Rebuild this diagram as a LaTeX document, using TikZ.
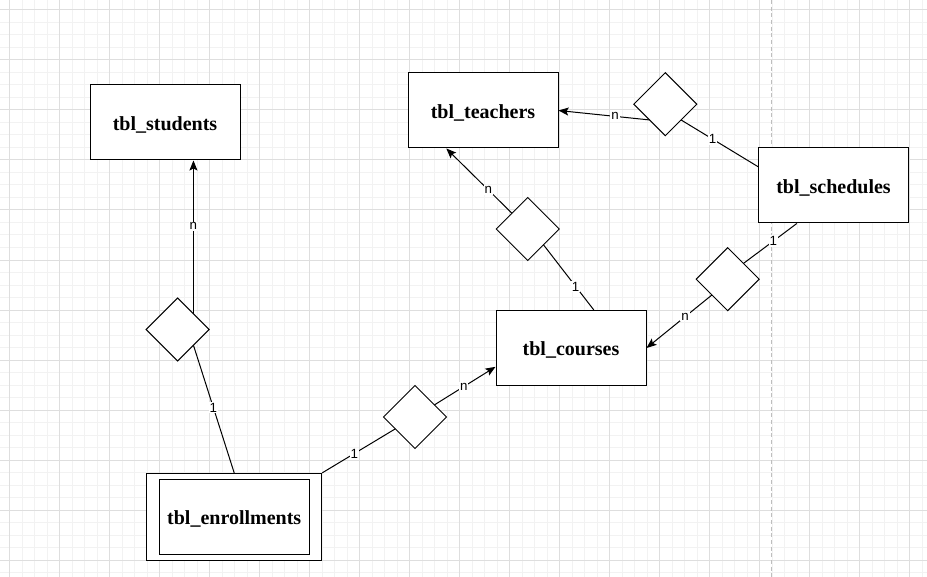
\documentclass[tikz,border=0pt]{standalone}
\usepackage{fontspec}
\setmainfont{Liberation Serif}
\newfontfamily\lblfont{Liberation Sans}
\usetikzlibrary{shapes.geometric,arrows.meta}

\tikzset{every picture/.style={line width=0.75pt}}
\definecolor{gridminor}{RGB}{242,242,242}
\definecolor{gridmajor}{RGB}{222,222,222}
\definecolor{pagebreak}{RGB}{190,190,190}

\tikzset{
  tbl/.style={draw, fill=white, minimum width=112.5pt, minimum height=56.25pt, inner sep=0pt,
    text height=12pt, text depth=0.6pt, font=\fontsize{15}{18}\selectfont\bfseries},
  rel/.style={draw, fill=white, diamond, aspect=1, inner sep=0pt, outer sep=0pt,
    minimum width=47.25pt, minimum height=47.25pt},
  toarr/.style={-{Stealth[length=7.5pt,width=6pt,inset=1.5pt]}},
  lbl/.style={fill=white, inner sep=0.75pt, font=\lblfont\fontsize{10}{11}\selectfont},
}

\begin{document}
\begin{tikzpicture}[x=0.75pt,y=0.75pt,yscale=-1,xscale=1]
\useasboundingbox (0,0) rectangle (927,577);

%Grid
\fill[white] (0,0) rectangle (927,577);
\foreach \k in {0,...,73} \draw[gridminor] ({9.5+12.5*\k},0) -- ({9.5+12.5*\k},577);
\foreach \k in {0,...,45} \draw[gridminor] (0,{10+12.5*\k}) -- (927,{10+12.5*\k});
\foreach \k in {0,...,18} \draw[gridmajor] ({9.5+50*\k},0) -- ({9.5+50*\k},577);
\foreach \k in {0,...,11} \draw[gridmajor] (0,{10+50*\k}) -- (927,{10+50*\k});
%Page break
\draw[pagebreak, dash pattern=on 3pt off 2pt] (771.7,0) -- (771.7,577);

%Tables
\node[tbl] (stu) at (165,122.5) {tbl\_students};
\node[tbl] (tea) at (483,110.5) {tbl\_teachers};
\node[tbl] (sch) at (833.5,185.5) {tbl\_schedules};
\node[tbl] (crs) at (571,348) {tbl\_courses};
\node[draw, fill=white, minimum width=131.25pt, minimum height=65pt] (enr) at (234.2,516.7) {};
\node[tbl] (enrin) at (234.2,517) {tbl\_enrollments};

%Relations
\node[rel] (d1) at (177.7,329.5) {};
\node[rel] (d2) at (415,417) {};
\node[rel] (d3) at (665.3,104.2) {};
\node[rel] (d4) at (527.7,229) {};
\node[rel] (d5) at (727.7,279.2) {};

%Connectors
\draw[toarr] (d1.north east) -- node[lbl, pos=0.57] {n} (d1.north east |- stu.south);
\draw (d1.south east) -- node[lbl, pos=0.49] {1} (enr.north);

\draw (enr.north east) -- node[lbl, pos=0.44] {1} (d2);
\draw[toarr] (d2) -- node[lbl, pos=0.48] {n} (crs.194);

\draw[toarr] (d3.south west) -- node[lbl, pos=0.38] {n} (tea.east);
\draw (d3.south east) -- node[lbl, pos=0.41] {1} (sch.166);

\draw[toarr] (d4.north west) -- node[lbl, pos=0.36] {n} (tea.226);
\draw (d4.south east) -- node[lbl, pos=0.64] {1} (crs.59);

\draw (sch.226) -- node[lbl, pos=0.44] {1} (d5.north east);
\draw[toarr] (d5.south west) -- node[lbl, pos=0.41] {n} (crs.east);

\end{tikzpicture}
\end{document}
